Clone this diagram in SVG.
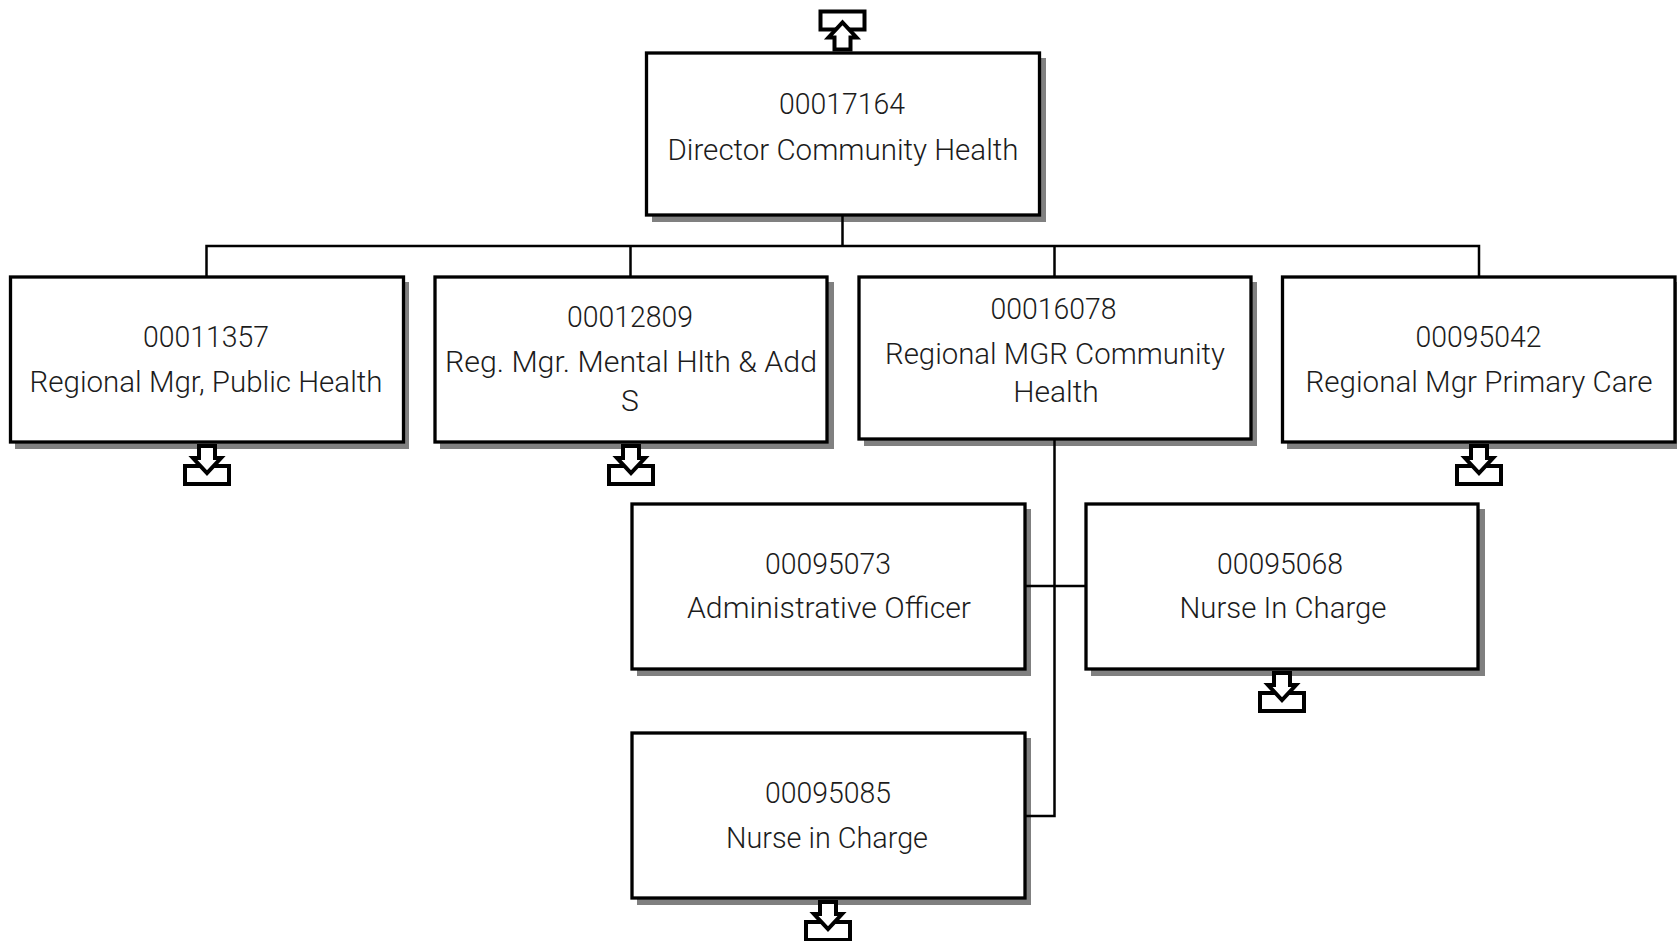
<svg xmlns="http://www.w3.org/2000/svg" width="1677" height="941" viewBox="0 0 1677 941">
<style>
.s{fill:#808080}
.b{fill:#fff;stroke:#000;stroke-width:3.3}
.c{fill:none;stroke:#000;stroke-width:2.5}
.i{fill:#fff;stroke:#000;stroke-width:4}
text{font-family:"Roboto","Liberation Sans",sans-serif;font-weight:300;font-size:30px;fill:#1c1c1c;text-anchor:middle}
</style>
<defs>
<g id="dn"><rect class="i" x="-22" y="21" width="44" height="18"/><path class="i" d="M-8 1H8V13H14L0 28L-14 13H-8Z"/></g>
</defs>
<rect width="1677" height="941" fill="#fff"/>
<g id="n00017164"><rect class="s" x="652" y="58" width="394" height="164"/><rect class="b" x="646.500" y="53" width="393" height="162"/>
<text x="842" y="114" textLength="126" lengthAdjust="spacingAndGlyphs">00017164</text><text x="843" y="160" textLength="351" lengthAdjust="spacingAndGlyphs">Director Community Health</text>
<g transform="translate(842.500,50.500) scale(1,-1)"><use href="#dn"/></g></g>
<g id="n00011357"><rect class="s" x="15" y="282" width="394" height="167"/><rect class="b" x="10.500" y="277" width="393" height="165"/>
<text x="206" y="347" textLength="126" lengthAdjust="spacingAndGlyphs">00011357</text><text x="206" y="392" textLength="353" lengthAdjust="spacingAndGlyphs">Regional Mgr, Public Health</text>
<use href="#dn" x="207" y="445"/></g>
<g id="n00012809"><rect class="s" x="440" y="282" width="394" height="167"/><rect class="b" x="435" y="277" width="392" height="165"/>
<text x="630" y="327" textLength="126" lengthAdjust="spacingAndGlyphs">00012809</text><text x="631" y="372" textLength="372" lengthAdjust="spacingAndGlyphs">Reg. Mgr. Mental Hlth &amp; Add</text><text x="630" y="411">S</text>
<use href="#dn" x="631" y="445"/></g>
<g id="n00016078"><rect class="s" x="864" y="282" width="393" height="164"/><rect class="b" x="859" y="277" width="392" height="162"/>
<text x="1053.500" y="319" textLength="126" lengthAdjust="spacingAndGlyphs">00016078</text><text x="1055" y="364" textLength="340" lengthAdjust="spacingAndGlyphs">Regional MGR Community</text><text x="1056" y="402">Health</text></g>
<g id="n00095042"><rect class="s" x="1287" y="282" width="390" height="167"/><rect class="b" x="1282.500" y="277" width="392.500" height="165"/>
<text x="1478.500" y="347" textLength="126" lengthAdjust="spacingAndGlyphs">00095042</text><text x="1479" y="392" textLength="347" lengthAdjust="spacingAndGlyphs">Regional Mgr Primary Care</text>
<use href="#dn" x="1479" y="445"/></g>
<g id="n00095073"><rect class="s" x="637" y="509" width="394" height="167"/><rect class="b" x="632" y="504" width="393" height="165"/>
<text x="828" y="574" textLength="126" lengthAdjust="spacingAndGlyphs">00095073</text><text x="829" y="618" textLength="284" lengthAdjust="spacingAndGlyphs">Administrative Officer</text></g>
<g id="n00095068"><rect class="s" x="1091" y="509" width="394" height="167"/><rect class="b" x="1086" y="504" width="392" height="165"/>
<text x="1280" y="574" textLength="126" lengthAdjust="spacingAndGlyphs">00095068</text><text x="1283" y="618" textLength="207" lengthAdjust="spacingAndGlyphs">Nurse In Charge</text>
<use href="#dn" x="1282" y="672"/></g>
<g id="n00095085"><rect class="s" x="637" y="738" width="394" height="167"/><rect class="b" x="632" y="733" width="393" height="165"/>
<text x="828" y="803" textLength="126" lengthAdjust="spacingAndGlyphs">00095085</text><text x="827" y="848" textLength="202" lengthAdjust="spacingAndGlyphs">Nurse in Charge</text>
<use href="#dn" x="828" y="901"/></g>
<g id="connectors">
<path class="c" d="M842.500 216V246M206.500 276V246H1479V276M630.500 246V276M1054.500 246V276M1054.500 440V816H1026M1026 586H1085"/>
</g>
</svg>
